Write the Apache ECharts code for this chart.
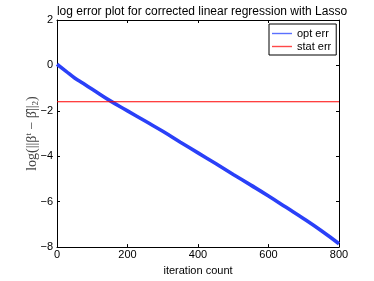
<!DOCTYPE html>
<html><head><meta charset="utf-8">
<script src="https://cdn.jsdelivr.net/npm/echarts@6/dist/echarts.min.js"></script>
<style>html,body{margin:0;padding:0;background:#fff}#c{width:374px;height:281px}</style>
</head><body><div id="c"></div>
<script>
var iterations = [0, 25, 50, 75, 100, 150, 200, 250, 300, 350, 400, 450, 500, 550, 600, 650, 700, 750, 800];
var optErr = [0.05, -0.25, -0.55, -0.8, -1.05, -1.55, -2.0, -2.45, -2.9, -3.38, -3.85, -4.32, -4.8, -5.27, -5.75, -6.25, -6.75, -7.28, -7.85];
var statIter = [0, 800];
var statErr = [-1.6, -1.6];
var xTicks = [0, 200, 400, 600, 800];
var yTicks = [-8, -6, -4, -2, 0, 2];

var font = 'Liberation Sans, Arial, sans-serif';
function minus(v){ return String(v).replace('-', '\u2212'); }
var chart = echarts.init(document.getElementById('c'), null, {renderer:'canvas'});
chart.setOption({
  animation: false,
  title: {text: 'log error plot for corrected linear regression with Lasso', left: 197, textAlign: 'center', top: 1,
    textStyle: {fontFamily: font, fontSize: 12, fontWeight: 'normal', color: '#000'}},
  grid: {left: 57, right: 35, top: 20, bottom: 31, show: false},
  legend: {show: true, orient: 'vertical', left: 269, top: 24, borderColor: '#000', borderWidth: 1, padding: [3, 5, 2, 3],
    itemGap: 0, itemWidth: 20, itemHeight: 1.4, backgroundColor: '#fff', icon: 'rect',
    textStyle: {fontFamily: font, fontSize: 11, color: '#000', lineHeight: 13},
    data: [{name: 'opt err', itemStyle: {color: '#5a70ff', borderWidth: 0}},
           {name: 'stat err', itemStyle: {color: '#ff4848', borderWidth: 0}}]},
  xAxis: [
    {type: 'value', min: 0, max: 800, interval: 200, name: 'iteration count', nameLocation: 'middle', nameGap: 16,
     nameTextStyle: {fontFamily: font, fontSize: 11, color: '#000'},
     axisLine: {onZero: false, lineStyle: {color: '#000', width: 1}}, axisTick: {inside: true, length: 3, lineStyle: {color: '#000'}},
     axisLabel: {fontFamily: font, fontSize: 11, color: '#000', margin: 2, formatter: function(v){return xTicks.indexOf(v)>=0?String(v):'';}},
     splitLine: {show: false}},
    {type: 'value', position: 'top', min: 0, max: 800, interval: 200,
     axisLine: {show: true, onZero: false, lineStyle: {color: '#000', width: 1}}, axisTick: {show: true, inside: true, length: 3, lineStyle: {color: '#000'}},
     axisLabel: {show: false}, splitLine: {show: false}}
  ],
  yAxis: [
    {type: 'value', min: -8, max: 2, interval: 2,
     name: 'log(||\u03B2{sup|t} \u2212 \u03B2\u0302||{sub|2})', nameLocation: 'middle', nameGap: 17, nameRotate: 90, nameMoveOverlap: false,
     nameTextStyle: {fontFamily: 'Liberation Serif, DejaVu Serif, serif', fontSize: 14, color: '#444',
       rich: {sup: {fontSize: 9, verticalAlign: 'top', padding: [0,0,7,0], fontFamily: 'Liberation Serif, serif', color:'#444'},
              sub: {fontSize: 9, padding: [7,0,0,0], fontFamily: 'Liberation Serif, serif', color:'#444'}}},
     axisLine: {show: true, onZero: false, lineStyle: {color: '#000', width: 1}}, axisTick: {show: true, inside: true, length: 3, lineStyle: {color: '#000'}},
     axisLabel: {fontFamily: font, fontSize: 11, color: '#000', margin: 4, formatter: function(v){return yTicks.indexOf(v)>=0?minus(v):'';}},
     splitLine: {show: false}},
    {type: 'value', position: 'right', min: -8, max: 2, interval: 2,
     axisLine: {show: true, onZero: false, lineStyle: {color: '#000', width: 1}}, axisTick: {show: true, inside: true, length: 3, lineStyle: {color: '#000'}},
     axisLabel: {show: false}, splitLine: {show: false}}
  ],
  series: [
    {name: 'opt err', type: 'line', symbol: 'none', smooth: true, color: '#2a40f8',
     lineStyle: {width: 3.6, color: '#2a40f8'},
     data: iterations.map(function(x, i){return [x, optErr[i]];})},
    {name: 'stat err', type: 'line', symbol: 'none', color: '#ff0000',
     lineStyle: {width: 1.2, color: '#ff0000'},
     data: statIter.map(function(x, i){return [x, statErr[i]];})}
  ]
});
</script></body></html>
